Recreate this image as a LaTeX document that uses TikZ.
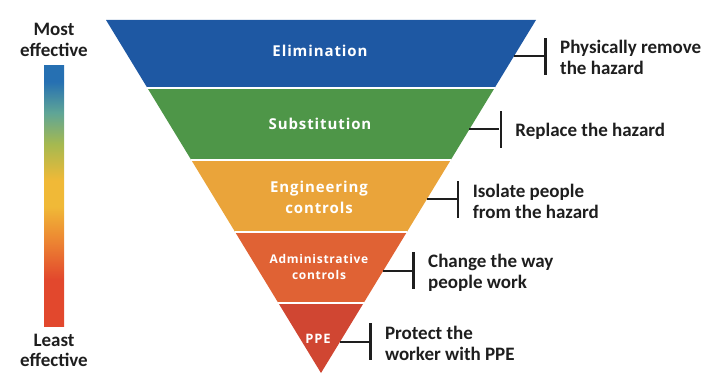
\documentclass[tikz,border=0pt]{standalone}
\usepackage{fontspec}
\setmainfont{Carlito}
\newfontfamily\bandfont[LetterSpace=6]{Open Sans}
\usetikzlibrary{calc,positioning}
\definecolor{elimblue}{RGB}{30,88,163}
\definecolor{subsgreen}{RGB}{78,150,72}
\definecolor{engorange}{RGB}{234,164,58}
\definecolor{adminred}{RGB}{224,98,52}
\definecolor{ppered}{RGB}{208,70,50}
\definecolor{inkgray}{RGB}{30,30,30}
\definecolor{barblue}{RGB}{38,112,178}
\definecolor{barteal}{RGB}{95,165,150}
\definecolor{bargreen}{RGB}{165,185,80}
\definecolor{baryellow}{RGB}{240,185,55}
\definecolor{barorange}{RGB}{236,130,50}
\definecolor{barred}{RGB}{226,72,45}
\pgfdeclareverticalshading{effbar}{100bp}{color(0bp)=(barred); color(34bp)=(barred); color(41bp)=(barorange); color(48bp)=(baryellow); color(53bp)=(baryellow); color(60bp)=(bargreen); color(66bp)=(barteal); color(72bp)=(barblue); color(100bp)=(barblue)}
\def\band[#1](#2:#3){\fill[#1] ($(tl)!#2!(ap)$) -- ($(tr)!#2!(ap)$) -- ($(tr)!#3!(ap)$) -- ($(tl)!#3!(ap)$) -- cycle;}
\def\gap(#1){\draw[white, line width=2.5pt] ($(tl)!#1!(ap)$) -- ($(tr)!#1!(ap)$);}

\begin{document}
\begin{tikzpicture}[x=1pt, y=-1pt,
		tick/.style={line width=2pt, color=inkgray},
		bar/.style={fill=inkgray, minimum width=2.5pt, minimum height=37pt, inner sep=0pt},
		note/.style={font=\bfseries\fontsize{19}{21}\selectfont, color=inkgray, align=left, inner sep=0pt},
		level/.style={font=\bandfont\bfseries\fontsize{15}{21}\selectfont, color=white, align=center, inner sep=0pt}]
		%%%%% START %%%%%
		
		\useasboundingbox (0, 0) rectangle (710, 374);
		
		\coordinate (tl) at (106, 20);
		\coordinate (tr) at (536, 20);
		\coordinate (ap) at (321, 373);
		
		\band[elimblue](0:0.1926)
		\band[subsgreen](0.1926:0.3966)
		\band[engorange](0.3966:0.6006)
		\band[adminred](0.6006:0.8017)
		\band[ppered](0.8017:1)
		
		\gap(0.1926)
		\gap(0.3966)
		\gap(0.6006)
		\gap(0.8017)
		
		\node[level] (elim) at (320, 51) {Elimination};
		\node[level] (subs) at (320, 124) {Substitution};
		\node[level] (eng) at (319, 197) {Engineering\\controls};
		\node[level, font=\bandfont\bfseries\fontsize{12}{16}\selectfont] (admin) at (319, 267) {Administrative\\controls};
		\node[level, font=\bandfont\bfseries\fontsize{13}{17}\selectfont] (ppe) at (318, 339) {PPE};
		
		\coordinate (e1) at ($(tr)!0.102!(ap)$);
		\coordinate (e2) at ($(tr)!0.310!(ap)$);
		\coordinate (e3) at ($(tr)!0.5085!(ap)$);
		\coordinate (e4) at ($(tr)!0.711!(ap)$);
		\coordinate (e5) at ($(tr)!0.912!(ap)$);
		
		\node[bar, right=30pt of e1] (b1) {};
		\node[bar, right=30pt of e2] (b2) {};
		\node[bar, right=30pt of e3] (b3) {};
		\node[bar, right=29pt of e4] (b4) {};
		\node[bar, right=29pt of e5] (b5) {};
		
		\draw[tick] (e1) -- (b1);
		\draw[tick] (e2) -- (b2);
		\draw[tick] (e3) -- (b3);
		\draw[tick] (e4) -- (b4);
		\draw[tick] (e5) -- (b5);
		
		\node[note, right=13pt of b1, yshift=-1.5pt] (n1) {Physically remove\\the hazard};
		\node[note, right=13pt of b2, yshift=-1.5pt] (n2) {Replace the hazard};
		\node[note, right=13pt of b3, yshift=-1.5pt] (n3) {Isolate people\\from the hazard};
		\node[note, right=13pt of b4, yshift=-1.5pt] (n4) {Change the way\\people work};
		\node[note, right=13pt of b5, yshift=-1.5pt] (n5) {Protect the\\worker with PPE};
		
		\shade[shading=effbar] (44, 66) rectangle (64, 326);
		\node[note, align=center] (most) at (54, 40) {Most\\effective};
		\node[note, align=center, font=\bfseries\fontsize{19}{20}\selectfont] (least) at (54, 350) {Least\\effective};
		
		%%%%% END %%%%%
	\end{tikzpicture}
\end{document}
